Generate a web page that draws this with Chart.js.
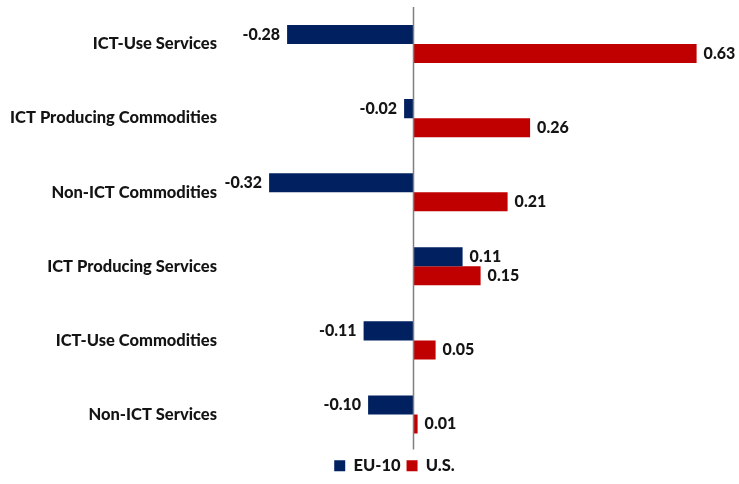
<!DOCTYPE html>
<html>
<head>
<meta charset="utf-8">
<script src="https://cdn.jsdelivr.net/npm/chart.js@4"></script>
<style>
  html, body { margin: 0; padding: 0; background: #ffffff; }
  #wrap { width: 739px; height: 484px; }
</style>
</head>
<body>
<div id="wrap"><canvas id="c" width="739" height="484"></canvas></div>
<script>
// Sector categories, top to bottom
const categories = [
  'ICT-Use Services',
  'ICT Producing Commodities',
  'Non-ICT Commodities',
  'ICT Producing Services',
  'ICT-Use Commodities',
  'Non-ICT Services'
];
const seriesNames = ['EU-10', 'U.S.'];
const euValues = [-0.28, -0.02, -0.32, 0.11, -0.11, -0.10];
const usValues = [0.63, 0.26, 0.21, 0.15, 0.05, 0.01];

const NAVY = '#002060';
const RED = '#C00000';
const INK = '#141414';
const FONT = 'Lato, "Open Sans", sans-serif';

// Vertical line at zero on the value axis
const zeroLine = {
  id: 'zeroLine',
  afterDatasetsDraw(chart) {
    const { ctx, chartArea, scales } = chart;
    const x = Math.round(scales.x.getPixelForValue(0)) + 0.5;
    ctx.save();
    ctx.strokeStyle = '#808080';
    ctx.lineWidth = 1.5;
    ctx.beginPath();
    ctx.moveTo(x, chartArea.top);
    ctx.lineTo(x, chartArea.bottom - 2);
    ctx.stroke();
    ctx.restore();
  }
};

// Value labels at the end of each bar
const valueLabels = {
  id: 'valueLabels',
  afterDatasetsDraw(chart) {
    const { ctx } = chart;
    ctx.save();
    ctx.font = '900 16px ' + FONT;
    ctx.fillStyle = INK;
    ctx.textBaseline = 'middle';
    chart.data.datasets.forEach((ds, di) => {
      const meta = chart.getDatasetMeta(di);
      meta.data.forEach((bar, i) => {
        const v = ds.data[i];
        const txt = v.toFixed(2);
        if (v < 0) {
          ctx.textAlign = 'right';
          ctx.fillText(txt, bar.x - 7, bar.y);
        } else {
          ctx.textAlign = 'left';
          ctx.fillText(txt, bar.x + 7, bar.y);
        }
      });
    });
    ctx.restore();
  }
};

// Centre the legend under the plotting area rather than the whole canvas
const legendShift = {
  id: 'legendShift',
  afterLayout(chart) {
    const lg = chart.legend;
    if (!lg) return;
    const target = (chart.chartArea.left + chart.chartArea.right) / 2 - 78;
    const current = (lg.left + lg.right) / 2;
    const dx = target - current;
    lg.left += dx;
    lg.right += dx;
  }
};

new Chart(document.getElementById('c'), {
  type: 'bar',
  data: {
    labels: categories,
    datasets: [
      { label: seriesNames[0], data: euValues, backgroundColor: NAVY, borderWidth: 0 },
      { label: seriesNames[1], data: usValues, backgroundColor: RED, borderWidth: 0 }
    ]
  },
  options: {
    indexAxis: 'y',
    responsive: false,
    animation: false,
    devicePixelRatio: 1,
    layout: { padding: { left: 0, right: 19, top: 7, bottom: 0 } },
    datasets: { bar: { categoryPercentage: 0.514, barPercentage: 1 } },
    scales: {
      x: {
        display: false,
        min: -0.418,
        max: 0.682
      },
      y: {
        grid: { display: false, drawTicks: false },
        border: { display: false },
        ticks: {
          padding: 8,
          color: INK,
          font: { family: FONT, size: 16.5, weight: '900' }
        },
        afterFit(scale) {
          scale.width = 225;
          scale.paddingTop = 0;
          scale.paddingBottom = 0;
        }
      }
    },
    plugins: {
      legend: {
        position: 'bottom',
        labels: {
          boxWidth: 11,
          boxHeight: 11,
          padding: 6,
          color: INK,
          font: { family: FONT, size: 16.5, weight: '900' }
        }
      },
      tooltip: { enabled: false }
    }
  },
  plugins: [zeroLine, valueLabels, legendShift]
});
</script>
</body>
</html>
